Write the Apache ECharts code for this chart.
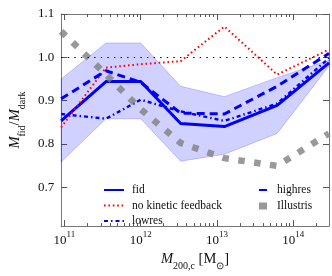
<!DOCTYPE html>
<html><head><meta charset="utf-8">
<script src="https://cdn.jsdelivr.net/npm/echarts@6/dist/echarts.min.js"></script>
<style>html,body{margin:0;padding:0;background:#fff}#c{width:332px;height:276px}</style>
</head><body><div id="c"></div>
<script>
// log10 of M_200,c [Msun]
const logMass   = [10.957, 11.545, 12.0, 12.524, 13.098, 13.79, 14.47];
const fid       = [0.853, 0.944, 0.944, 0.847, 0.840, 0.889, 0.987];
const fidLow    = [0.758, 0.858, 0.858, 0.760, 0.776, 0.824, 0.980];
const fidHigh   = [0.950, 1.033, 1.033, 0.933, 0.909, 0.953, 0.993];
const noKinetic = [0.838, 0.976, 0.984, 0.991, 1.071, 0.960, 1.018];
const lowres    = [0.869, 0.858, 0.902, 0.875, 0.853, 0.893, 0.998];
const highres   = [0.904, 0.969, 0.942, 0.871, 0.869, 0.933, 1.009];
const illustris = [1.060, 0.960, 0.880, 0.802, 0.767, 0.749, 0.824];
const xMajor = [11, 12, 13, 14];
const yTicks = [0.7, 0.8, 0.9, 1.0, 1.1];
const XMIN = 10.957, XMAX = 14.47, YMIN = 0.61, YMAX = 1.1;

const xMinor = [];
for (let d = 10; d <= 14; d++) for (let k = 2; k <= 9; k++) {
  const v = d + Math.log10(k);
  if (v > XMIN && v < XMAX) xMinor.push(v);
}
const pair = arr => arr.map((v, i) => [logMass[i], v]);
const FONT = 'Liberation Serif';
const AX = '#777';
const GREY = 'rgba(128,128,128,0.8)';

const nameRich = {
  i: {fontFamily: FONT, fontStyle: 'italic', fontSize: 14.5, color: '#111', lineHeight: 19, verticalAlign: 'top'},
  n: {fontFamily: FONT, fontSize: 14.5, color: '#111', lineHeight: 19, verticalAlign: 'top'},
  s: {fontFamily: FONT, fontSize: 10, color: '#111', lineHeight: 19, verticalAlign: 'bottom'}
};

function xAx(pos, ticks, len, labels, line) {
  const a = {
    type: 'value', min: XMIN, max: XMAX, position: pos,
    axisLine: {show: line, lineStyle: {color: AX, width: 1}},
    axisTick: {show: true, inside: true, length: len, customValues: ticks, lineStyle: {color: '#555'}},
    axisLabel: {show: false},
    splitLine: {show: false}
  };
  if (labels) {
    a.axisLabel = {
      show: true, customValues: xMajor, margin: 4,
      formatter: v => '{b|10}{s|' + Math.round(v) + '}',
      rich: {
        b: {fontFamily: FONT, fontSize: 13, color: '#111', lineHeight: 17, verticalAlign: 'bottom'},
        s: {fontFamily: FONT, fontSize: 9, color: '#111', lineHeight: 17, verticalAlign: 'top'}
      }
    };
    a.name = '{i|M}{s|200,c}{n| [M}{s|⊙}{n|]}';
    a.nameLocation = 'middle';
    a.nameGap = 22;
    a.nameTextStyle = {rich: nameRich};
  }
  return a;
}
function yAx(pos, labels) {
  const a = {
    type: 'value', min: YMIN, max: YMAX, position: pos,
    axisLine: {show: true, lineStyle: {color: AX, width: 1}},
    axisTick: {show: true, inside: true, length: 6, customValues: yTicks, lineStyle: {color: '#555'}},
    axisLabel: {show: false},
    splitLine: {show: false}
  };
  if (labels) {
    a.axisLabel = {show: true, customValues: yTicks, margin: 7, formatter: v => v.toFixed(1),
      fontFamily: FONT, fontSize: 13, color: '#111'};
    a.name = '{i|M}{s|fid}{n|/}{i|M}{s|dark}';
    a.nameLocation = 'middle';
    a.nameRotate = 90;
    a.nameGap = 28;
    a.nameTextStyle = {rich: nameRich};
  }
  return a;
}

const legendText = {fontFamily: FONT, fontSize: 11.5, color: '#111', lineHeight: 12, padding: [0, 0, 0, 3]};

const option = {
  animation: false,
  grid: {left: 60, right: 3, top: 14, bottom: 41, containLabel: false},
  xAxis: [xAx('bottom', xMajor, 6, true, true), xAx('bottom', xMinor, 3, false, false),
          xAx('top', xMajor, 6, false, true), xAx('top', xMinor, 3, false, false)],
  yAxis: [yAx('left', true), yAx('right', false)],
  legend: [
    {data: ['fid', 'no kinetic feedback', 'lowres'], orient: 'vertical', left: 98, top: 179,
     icon: 'inherit', itemStyle: {opacity: 0},
     itemWidth: 20, itemHeight: 8, itemGap: 3.5, textStyle: legendText, selectedMode: false},
    {data: ['highres', {name: 'Illustris', icon: 'rect', itemStyle: {color: GREY, opacity: 1}}],
     orient: 'vertical', left: 253, top: 179,
     icon: 'inherit', itemStyle: {opacity: 0},
     itemWidth: 8, itemHeight: 7, itemGap: 4, textStyle: Object.assign({}, legendText, {padding: [0, 0, 0, 5]}),
     selectedMode: false}
  ],
  series: [
    {name: 'band', type: 'custom', silent: true, z: 1,
     data: logMass.map((x, i) => [x, fidLow[i], fidHigh[i]]),
     encode: {x: 0, y: [1, 2]},
     renderItem: (params, api) => {
       if (params.dataIndex !== 0) return;
       const pts = [];
       for (let i = 0; i < logMass.length; i++) pts.push(api.coord([logMass[i], fidHigh[i]]));
       for (let i = logMass.length - 1; i >= 0; i--) pts.push(api.coord([logMass[i], fidLow[i]]));
       return {type: 'polygon', shape: {points: pts},
         style: {fill: 'rgba(0,0,255,0.18)', stroke: 'rgba(0,0,255,0.2)', lineWidth: 1}};
     }},
    {name: 'fid', type: 'line', data: pair(fid), symbol: 'none', color: '#0000ff',
     lineStyle: {color: '#0000ff', width: 3}, z: 3,
     markLine: {symbol: 'none', silent: true, label: {show: false}, data: [{yAxis: 1.0}],
       lineStyle: {color: '#000', width: 1.2, type: [1.4, 5.2]}}},
    {name: 'no kinetic feedback', type: 'line', data: pair(noKinetic), symbol: 'none', color: '#ff0000',
     lineStyle: {color: '#ff0000', width: 2, type: [1.6, 2.8]}, z: 3},
    {name: 'lowres', type: 'line', data: pair(lowres), symbol: 'none', color: '#0000ff',
     lineStyle: {color: '#0000ff', width: 2.4, type: [4, 3, 1.5, 3]}, z: 3},
    {name: 'highres', type: 'line', data: pair(highres), symbol: 'none', color: '#0000ff',
     lineStyle: {color: '#0000ff', width: 3, type: [8, 5]}, z: 3},
    {name: 'Illustris', type: 'line', data: pair(illustris), symbol: 'none', color: GREY,
     lineStyle: {color: GREY, width: 6.5, type: [6.5, 9.5], cap: 'butt'}, z: 4}
  ]
};
const chart = echarts.init(document.getElementById('c'), null, {renderer: 'canvas'});
chart.setOption(option);
</script></body></html>
